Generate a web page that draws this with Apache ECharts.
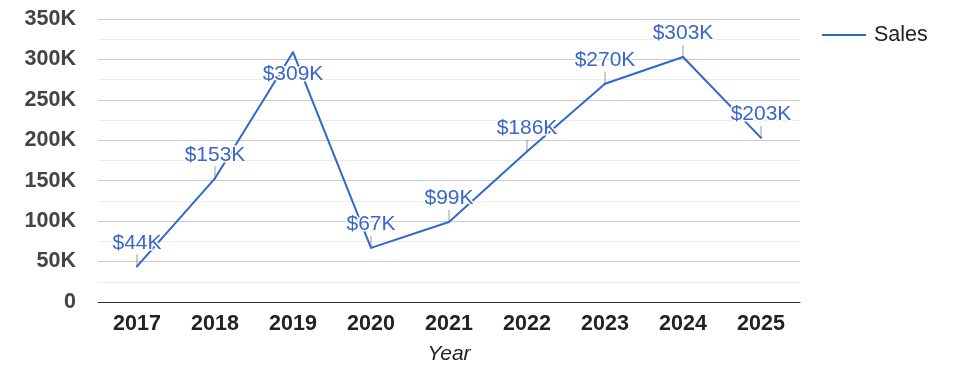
<!DOCTYPE html>
<html>
<head>
<meta charset="utf-8">
<script src="https://cdn.jsdelivr.net/npm/echarts@6/dist/echarts.min.js"></script>
<style>html,body{margin:0;padding:0;background:#fff}#c{width:975px;height:378px}</style>
</head>
<body>
<div id="c"></div>
<script>
const years = ['2017','2018','2019','2020','2021','2022','2023','2024','2025'];
const sales = [44000, 153000, 309000, 67000, 99000, 186000, 270000, 303000, 203000];
const yTicks = [0, 50000, 100000, 150000, 200000, 250000, 300000, 350000];
const seriesName = 'Sales';
const axisTitle = 'Year';

const FONT = '"Liberation Sans", Arial, sans-serif';
const GRID_TOP = 19;
const LABEL_SPACE = 36; // pixels needed above a point for tick + label
const chart = echarts.init(document.getElementById('c'), null, {renderer: 'canvas'});

function baseOption(flips) {
  return {
    animation: false,
    textStyle: {fontFamily: FONT},
    grid: {left: 98, right: 175, top: GRID_TOP, bottom: 76, containLabel: false},
    legend: {
      data: [{name: seriesName, icon: 'rect', itemStyle: {color: '#3366cc', opacity: 1}}],
      left: 817, top: 19,
      itemWidth: 44, itemHeight: 2,
      itemStyle: {color: '#3366cc', opacity: 1},
      textStyle: {fontFamily: FONT, fontSize: 21.5, color: '#222', padding: [0, 0, 0, 3]}
    },
    xAxis: {
      type: 'category',
      data: years,
      boundaryGap: true,
      name: axisTitle,
      nameLocation: 'middle',
      nameGap: 42,
      nameTextStyle: {fontFamily: FONT, fontSize: 21, fontStyle: 'italic', color: '#222'},
      axisLine: {lineStyle: {color: '#333', width: 1}},
      axisTick: {show: false},
      axisLabel: {fontFamily: FONT, fontSize: 21.5, fontWeight: 'bold', color: '#222', margin: 11}
    },
    yAxis: {
      type: 'value',
      min: yTicks[0],
      max: yTicks[yTicks.length - 1],
      interval: yTicks[1] - yTicks[0],
      axisLine: {show: false},
      axisTick: {show: false},
      axisLabel: {
        fontFamily: FONT, fontSize: 21.5, fontWeight: 'bold', color: '#444', margin: 22,
        formatter: v => v === 0 ? '0' : (v / 1000) + 'K'
      },
      splitLine: {lineStyle: {color: '#ccc', width: 1}},
      minorTick: {show: false, splitNumber: 2},
      minorSplitLine: {show: true, lineStyle: {color: '#ebebeb', width: 1}}
    },
    series: [
      {
        type: 'custom',
        name: 'ticks',
        silent: true,
        z: 1,
        data: sales.map((v, i) => [i, v]),
        renderItem: function (params, api) {
          const p = api.coord([api.value(0), api.value(1)]);
          if (flips[params.dataIndex]) return null;
          return {
            type: 'line',
            shape: {x1: p[0], y1: p[1], x2: p[0], y2: p[1] - 12},
            style: {stroke: '#999', lineWidth: 1}
          };
        }
      },
      {
        type: 'line',
        name: seriesName,
        data: sales.map((v, i) => flips[i]
          ? {value: v, label: {position: 'bottom', distance: 11}}
          : {value: v}),
        z: 3,
        symbol: 'circle',
        symbolSize: 2,
        showSymbol: true,
        showAllSymbol: true,
        lineStyle: {color: '#3366cc', width: 2},
        itemStyle: {color: '#3366cc'},
        label: {
          show: true,
          position: 'top',
          distance: 12,
          fontFamily: FONT,
          fontSize: 21,
          color: '#3a67c8',
          textBorderColor: '#fff',
          textBorderWidth: 3,
          formatter: p => '$' + Math.round(p.value / 1000) + 'K'
        }
      }
    ]
  };
}

chart.setOption(baseOption(sales.map(() => false)));
const flips = sales.map((v, i) => chart.convertToPixel({gridIndex: 0}, [i, v])[1] - LABEL_SPACE < GRID_TOP);
chart.setOption(baseOption(flips), true);
</script>
</body>
</html>
